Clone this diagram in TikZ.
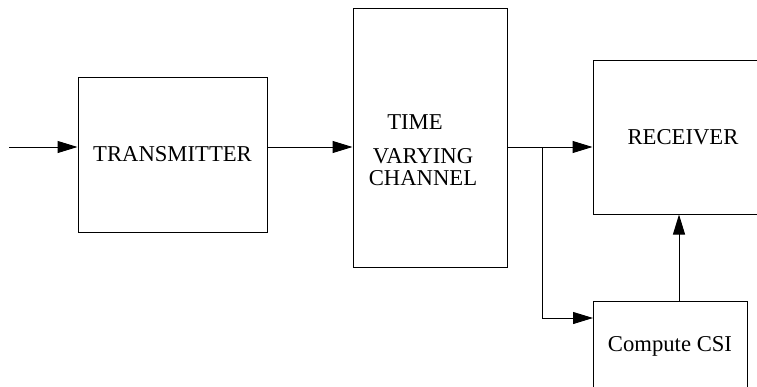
\documentclass[tikz,border=0pt]{standalone}
\usepackage{fontspec}
\setmainfont{Liberation Serif}
\usetikzlibrary{arrows.meta}
\begin{document}
\begin{tikzpicture}[x=0.75pt, y=-0.75pt, line width=0.75pt,
  every node/.style={font=\fontsize{17}{16.5}\selectfont},
  block/.style={draw, rectangle, inner sep=0pt},
  chantext/.style={align=center, inner sep=0pt},
  >={Triangle[length=15pt, width=9pt]}]
  \useasboundingbox (0,0) rectangle (757,386);
  \node[block, minimum width=141.75pt, minimum height=116.25pt] (tx) at (172.5,154.5) {TRANSMITTER};
  \node[block, minimum width=115.5pt, minimum height=194.25pt] (chan) at (430,137.5) {};
  \node[chantext] (time) at (415,122) {TIME};
  \node[chantext] (vc) at (423,167) {VARYING\\CHANNEL};
  \node[block, minimum width=135pt, minimum height=115.5pt] (rx) at (683,137) {RECEIVER};
  \node[block, minimum width=115.5pt, minimum height=67.5pt] (csi) at (670,346) {Compute CSI};
  % connectors
  \coordinate (in) at (9,147);
  \coordinate (split) at (542,147);
  \coordinate (csiin) at (593,318);
  \coordinate (fb) at (679,301);
  \draw[->] (in) -- (in -| tx.west);
  \draw[->] (in -| tx.east) -- (in -| chan.west);
  \draw[->] (in -| chan.east) -- (in -| rx.west);
  \draw[->] (split) |- (csiin);
  \draw[->] (fb) -- (fb |- rx.south);
\end{tikzpicture}
\end{document}
